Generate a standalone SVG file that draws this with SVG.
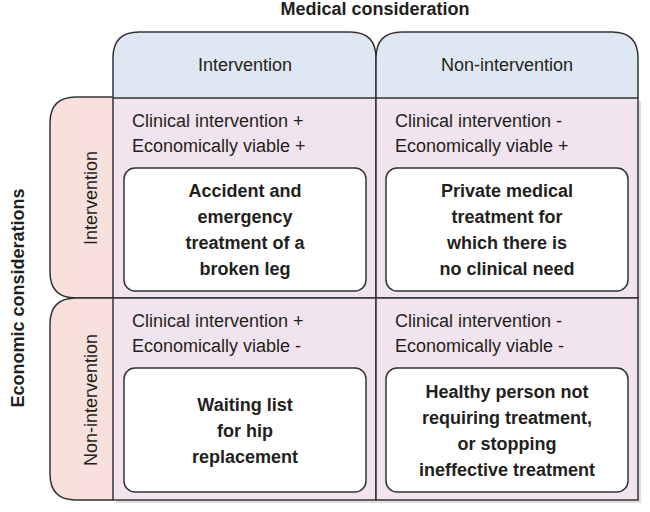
<svg xmlns="http://www.w3.org/2000/svg" width="650" height="512" viewBox="0 0 650 512">
<style>
.ln{stroke:#333;stroke-width:1.5;fill:none}
.hd{fill:#dfe7f3;stroke:#333;stroke-width:1.5}
.sd{fill:#f8e1dc;stroke:#333;stroke-width:1.5}
.cell{fill:#f2e4ee;stroke:#333;stroke-width:1.5}
.box{fill:#fff;stroke:#333;stroke-width:1.5}
.t{font-family:"Liberation Sans",Arial,sans-serif;font-size:18px;fill:#231f20}
.b{font-family:"Liberation Sans",Arial,sans-serif;font-size:18px;font-weight:bold;fill:#231f20;text-anchor:middle}
.ttl{font-family:"Liberation Sans",Arial,sans-serif;font-size:18px;font-weight:bold;fill:#231f20;text-anchor:middle}
.c{text-anchor:middle}
</style>
<text class="ttl" x="375" y="15" font-size="16">Medical consideration</text>
<text class="ttl" transform="translate(24,298) rotate(-90)">Economic considerations</text>
<rect x="116" y="101" width="525" height="402" fill="#bdbdbd" opacity="0.5"/>
<g id="header-intervention">
<path class="hd" d="M113,98 V58 Q113,32 139,32 H350 Q376,32 376,58 V98"/>
<text class="t c" x="245" y="71">Intervention</text>
</g>
<g id="header-non-intervention">
<path class="hd" d="M376,98 V58 Q376,32 402,32 H612 Q638,32 638,58 V98"/>
<text class="t c" x="507" y="71">Non-intervention</text>
</g>
<g id="side-intervention">
<path class="sd" d="M113,97 H76 Q50,97 50,123 V272 Q50,298 76,298 H113"/>
<text class="t c" transform="translate(97,198) rotate(-90)">Intervention</text>
</g>
<g id="side-non-intervention">
<path class="sd" d="M113,298 H76 Q50,298 50,324 V474 Q50,500 76,500 H113"/>
<text class="t c" transform="translate(97,400) rotate(-90)">Non-intervention</text>
</g>
<g id="cell-tl">
<rect class="cell" x="113" y="98" width="263" height="200"/>
<text class="t" x="132" y="127">Clinical intervention +</text>
<text class="t" x="132" y="152">Economically viable +</text>
<rect class="box" x="124" y="168" width="242" height="123" rx="11"/>
<text class="b" x="245" y="197">Accident and</text>
<text class="b" x="245" y="223">emergency</text>
<text class="b" x="245" y="249">treatment of a</text>
<text class="b" x="245" y="275">broken leg</text>
</g>
<g id="cell-tr">
<rect class="cell" x="376" y="98" width="262" height="200"/>
<text class="t" x="395" y="127">Clinical intervention -</text>
<text class="t" x="395" y="152">Economically viable +</text>
<rect class="box" x="386" y="168" width="242" height="123" rx="11"/>
<text class="b" x="507" y="197">Private medical</text>
<text class="b" x="507" y="223">treatment for</text>
<text class="b" x="507" y="249">which there is</text>
<text class="b" x="507" y="275">no clinical need</text>
</g>
<g id="cell-bl">
<rect class="cell" x="113" y="298" width="263" height="202"/>
<text class="t" x="132" y="327">Clinical intervention +</text>
<text class="t" x="132" y="352">Economically viable -</text>
<rect class="box" x="124" y="368" width="242" height="124" rx="11"/>
<text class="b" x="245" y="411">Waiting list</text>
<text class="b" x="245" y="437">for hip</text>
<text class="b" x="245" y="463">replacement</text>
</g>
<g id="cell-br">
<rect class="cell" x="376" y="298" width="262" height="202"/>
<text class="t" x="395" y="327">Clinical intervention -</text>
<text class="t" x="395" y="352">Economically viable -</text>
<rect class="box" x="386" y="368" width="242" height="124" rx="11"/>
<text class="b" x="507" y="398">Healthy person not</text>
<text class="b" x="507" y="424">requiring treatment,</text>
<text class="b" x="507" y="450">or stopping</text>
<text class="b" x="507" y="476">ineffective treatment</text>
</g>
<g id="connectors"></g>
</svg>
